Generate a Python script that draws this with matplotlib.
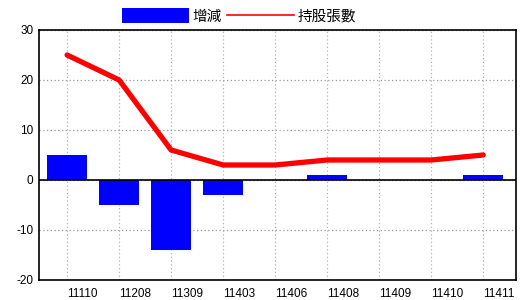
import matplotlib
matplotlib.use("Agg")
from matplotlib import pyplot as plt
from matplotlib.patches import Patch
from matplotlib.lines import Line2D
import matplotlib.transforms as mtrans

# Data.
periods = ["11110", "11208", "11309", "11403", "11406", "11408", "11409", "11410", "11411"]
change = [5, -5, -14, -3, 0, 1, 0, 0, 1]
holders = [25, 20, 6, 3, 3, 4, 4, 4, 5]

plt.rcParams['font.family'] = ['Liberation Sans', 'Noto Sans CJK TC', 'DejaVu Sans']
plt.rcParams['axes.unicode_minus'] = False

fig = plt.figure(figsize=(5.2, 3.0), dpi=100)
ax = fig.add_axes([39 / 520, 20 / 300, 477 / 520, 250 / 300])

x = list(range(len(periods)))
ax.bar(x, change, width=0.77, color="#0000ff", zorder=2)
ax.plot(x, holders, color="#ff0000", linewidth=3.8, solid_capstyle="round",
        solid_joinstyle="round", zorder=3)
ax.axhline(0, color="black", linewidth=1.2, zorder=2.5)

ax.set_xlim(-0.54, 8.63)
ax.set_ylim(-20, 30)
ax.set_yticks([-20, -10, 0, 10, 20, 30])
ax.set_xticks(x)
ax.set_xticklabels(periods, ha="left")
offset = mtrans.ScaledTranslation(2 / 100, 0, fig.dpi_scale_trans)
for lab in ax.get_xticklabels():
    lab.set_transform(lab.get_transform() + offset)

ax.tick_params(axis="both", length=0, labelsize=8.5, colors="black")
ax.tick_params(axis="x", pad=6)
ax.tick_params(axis="y", pad=4)

ax.yaxis.grid(True, linestyle=(0, (1, 2)), color="#999999", linewidth=0.9, zorder=0)
ax.xaxis.grid(True, linestyle=(0, (1, 2)), color="#a8b4c0", linewidth=0.9, zorder=0)
ax.set_axisbelow(True)
for s in ax.spines.values():
    s.set_color("black")
    s.set_linewidth(1.2)

handles = [Patch(facecolor="#0000ff", edgecolor="none"),
           Line2D([0], [0], color="#ff0000", linewidth=1.2)]
fig.legend(handles, ["增減", "持股張數"], loc="center", bbox_to_anchor=(239 / 520, 1 - 16 / 300),
           ncol=2, frameon=False, handlelength=4.6, handleheight=1.15, handletextpad=0.2,
           columnspacing=0.4, prop={"family": ["Noto Sans CJK TC"], "size": 10.5})

fig.savefig("out.png", dpi=100)
